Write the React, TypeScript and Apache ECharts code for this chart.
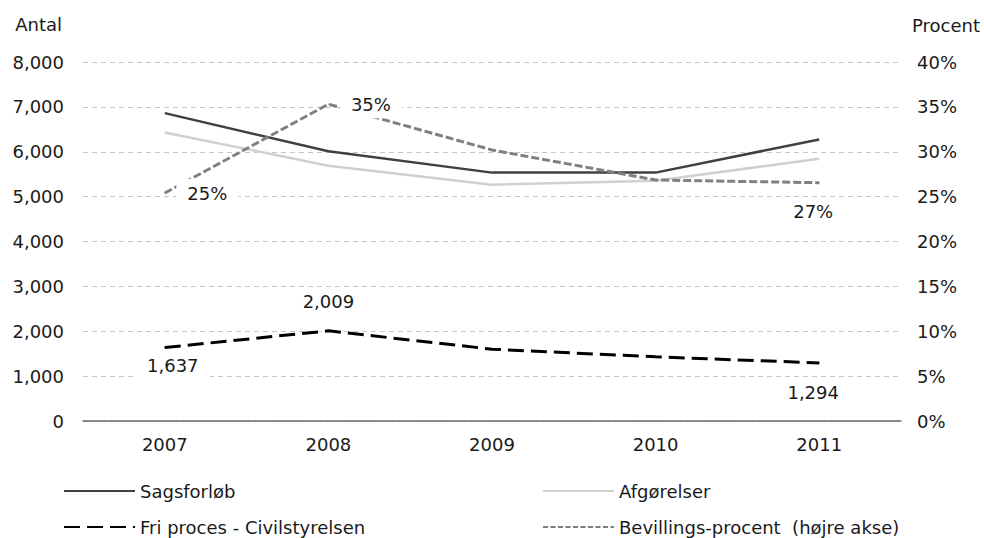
import React, { useEffect, useRef } from "react";
import * as echarts from "echarts";

const categories = ["2007", "2008", "2009", "2010", "2011"];
const sagsforloeb = [6860, 6010, 5535, 5535, 6275];
const afgoerelser = [6430, 5690, 5265, 5355, 5845];
const friProces = [1637, 2009, 1600, 1430, 1294];
const bevillingsProcent = [25.4, 35.3, 30.2, 26.85, 26.55];
const leftTicks = [0, 1000, 2000, 3000, 4000, 5000, 6000, 7000, 8000];
const rightTicks = [0, 5, 10, 15, 20, 25, 30, 35, 40];

const FONT = "DejaVu Sans";
const TXT = "#1a1a1a";

const fmtThousands = (v: number) => v.toLocaleString("en-US");

export default function App() {
  const ref = useRef<HTMLDivElement>(null);

  useEffect(() => {
    if (!ref.current) return;
    const chart = echarts.init(ref.current, null, { renderer: "svg" });

    const labelBase = {
      show: true,
      fontFamily: FONT,
      fontSize: 18,
      color: TXT,
      backgroundColor: "#fff",
      padding: [5, 11],
    };

    const friLabels: Record<number, any> = {
      0: { position: "bottom", distance: 3, offset: [8, 0] },
      1: { position: "top", distance: 15 },
      4: { position: "bottom", distance: 15, offset: [-6, 0] },
    };
    const bevLabels: Record<number, any> = {
      0: { position: "right", distance: 11 },
      1: { position: "right", distance: 11 },
      4: { position: "bottom", distance: 14, offset: [-6, 0] },
    };

    const friData = friProces.map((v, i) => ({
      value: v,
      label: friLabels[i]
        ? { ...labelBase, ...friLabels[i], formatter: () => fmtThousands(v) }
        : { show: false },
    }));
    const bevData = bevillingsProcent.map((v, i) => ({
      value: v,
      label: bevLabels[i]
        ? { ...labelBase, ...bevLabels[i], formatter: () => Math.round(v) + "%" }
        : { show: false },
    }));

    const axisLabel = { fontFamily: FONT, fontSize: 18, color: TXT };
    const splitLine = {
      show: true,
      lineStyle: { color: "#c6c6c6", type: [5, 4] as any, width: 1 },
    };

    const legendBase = {
      itemWidth: 71,
      itemHeight: 14,
      itemGap: 5,
      padding: 0,
      textStyle: { fontFamily: FONT, fontSize: 18, color: TXT },
      itemStyle: { opacity: 0 },
      selectedMode: false,
    };

    chart.setOption({
      animation: false,
      backgroundColor: "#fff",
      grid: { left: 83, right: 83, top: 62, bottom: 117, containLabel: false },
      xAxis: {
        type: "category",
        data: categories,
        boundaryGap: true,
        axisLine: { show: true, lineStyle: { color: "#6b6b6b", width: 1.5 } },
        axisTick: { show: false },
        axisLabel: { ...axisLabel, margin: 14 },
      },
      yAxis: [
        {
          type: "value",
          min: leftTicks[0],
          max: leftTicks[leftTicks.length - 1],
          interval: leftTicks[1] - leftTicks[0],
          name: "Antal",
          nameLocation: "end",
          nameGap: 29,
          nameTextStyle: { fontFamily: FONT, fontSize: 18, color: TXT, align: "right", padding: [0, 21, 0, 0] },
          axisLine: { show: false },
          axisTick: { show: false },
          axisLabel: { ...axisLabel, margin: 19, formatter: (v: number) => fmtThousands(v) },
          splitLine,
        },
        {
          type: "value",
          position: "right",
          min: rightTicks[0],
          max: rightTicks[rightTicks.length - 1],
          interval: rightTicks[1] - rightTicks[0],
          name: "Procent",
          nameLocation: "end",
          nameGap: 28,
          nameTextStyle: { fontFamily: FONT, fontSize: 18, color: TXT, align: "left", padding: [0, 0, 0, 11] },
          axisLine: { show: false },
          axisTick: { show: false },
          axisLabel: { ...axisLabel, margin: 16, formatter: (v: number) => v + "%" },
          splitLine: { show: false },
        },
      ],
      legend: [
        { ...legendBase, left: 63, top: 482, data: ["Sagsforløb"], lineStyle: { width: 2 } },
        { ...legendBase, left: 542, top: 482, data: ["Afgørelser"], lineStyle: { width: 2 } },
        { ...legendBase, left: 63, top: 518, data: ["Fri proces - Civilstyrelsen"] },
        {
          ...legendBase,
          left: 542,
          top: 518,
          data: ["Bevillings-procent  (højre akse)"],
          lineStyle: { width: 2, type: [5, 2.5] },
        },
      ],
      series: [
        {
          name: "Sagsforløb",
          type: "line",
          yAxisIndex: 0,
          data: sagsforloeb,
          symbol: "none",
          lineStyle: { color: "#404040", width: 2.5 },
          itemStyle: { color: "#404040" },
          z: 3,
        },
        {
          name: "Afgørelser",
          type: "line",
          yAxisIndex: 0,
          data: afgoerelser,
          symbol: "none",
          lineStyle: { color: "#d0d0d0", width: 2.5 },
          itemStyle: { color: "#d0d0d0" },
          z: 2,
        },
        {
          name: "Fri proces - Civilstyrelsen",
          type: "line",
          yAxisIndex: 0,
          data: friData,
          symbol: "circle",
          symbolSize: 1,
          showSymbol: true,
          lineStyle: { color: "#000", width: 3, type: [16, 7] as any },
          itemStyle: { color: "#000" },
          z: 4,
        },
        {
          name: "Bevillings-procent  (højre akse)",
          type: "line",
          yAxisIndex: 1,
          data: bevData,
          symbol: "circle",
          symbolSize: 1,
          showSymbol: true,
          lineStyle: { color: "#808080", width: 3, type: [8, 3] as any },
          itemStyle: { color: "#808080" },
          z: 5,
        },
      ],
    });

    return () => chart.dispose();
  }, []);

  return <div ref={ref} style={{ width: 984, height: 538, position: "absolute", left: 0, top: 0 }} />;
}
